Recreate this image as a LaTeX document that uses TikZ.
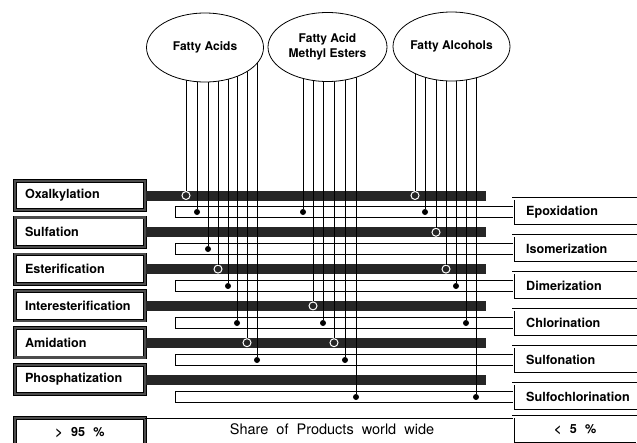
\documentclass[tikz,border=0pt]{standalone}
\usepackage{fontspec}
\setmainfont{TeX Gyre Heros}
\usetikzlibrary{positioning, shapes.geometric}

\pgfdeclarelayer{front}
\pgfsetlayers{main,front}

\begin{document}
\begin{tikzpicture}[
    x=1pt, y=-1pt,          % ピクセル座標をそのまま使う（y軸は下向き）
    line width=0.6pt,
    src/.style={ellipse, draw, fill=white, line width=0.8pt, inner sep=0pt,
        minimum width=117pt, minimum height=69pt, align=center,
        font=\fontsize{12}{14.5}\selectfont\bfseries},
    lbox/.style={draw, line width=0.7pt, double=black!70, double distance=2.2pt,
        fill=white, minimum width=130pt, minimum height=29.5pt, inner xsep=10pt,
        text width=110pt, align=left, font=\fontsize{12.6}{15}\selectfont\bfseries},
    rbox/.style={draw, double=white, double distance=2pt, fill=white, anchor=west,
        minimum height=27pt, inner xsep=13pt, text width=140pt, align=left,
        font=\fontsize{12.6}{15}\selectfont\bfseries},
    darkbar/.style={fill=black!85, inner sep=0pt, minimum width=340pt, minimum height=10pt},
    whitebar/.style={draw, fill=white},
    dot/.style={circle, fill=black, inner sep=0pt, minimum size=6pt},
    ring/.style={circle, draw=white, fill=black!85, line width=1pt, inner sep=0pt, minimum size=8pt}
]
    \clip (0,0) rectangle (637,442);

    % --- 1. 原料（楕円） ---
    \begin{pgfonlayer}{front}
        \node [src] (fa) at (205,47.5) {Fatty Acids};
        \node [src, minimum width=119pt] (fm) at (327.5,47) {Fatty Acid\\Methyl Esters};
        \node [src] (fo) at (451.5,46.5) {Fatty Alcohols};
    \end{pgfonlayer}

    % --- 2. 左側：主な反応（黒いバー） ---
    \node [lbox] (ox) at (80,195.5) {Oxalkylation};
    \node [lbox] (su) at (80,232.3) {Sulfation};
    \node [lbox] (es) at (80,269.1) {Esterification};
    \node [lbox] (ie) at (80,305.9) {Interesterification};
    \node [lbox] (am) at (80,342.7) {Amidation};
    \node [lbox] (ph) at (80,379.5) {Phosphatization};

    \node [darkbar, right=0pt of ox] (oxbar) {};
    \node [darkbar, right=0pt of su] (subar) {};
    \node [darkbar, right=0pt of es] (esbar) {};
    \node [darkbar, right=0pt of ie] (iebar) {};
    \node [darkbar, right=0pt of am] (ambar) {};
    \node [darkbar, right=0pt of ph] (phbar) {};

    % --- 3. 右側：その他の反応（白いバー） ---
    \node [rbox] (ep) at (513,212) {Epoxidation};
    \node [rbox] (is) at (513,249) {Isomerization};
    \node [rbox] (di) at (513,286) {Dimerization};
    \node [rbox] (ch) at (513,323) {Chlorination};
    \node [rbox] (sn) at (513,360) {Sulfonation};
    \node [rbox] (sc) at (513,397) {Sulfochlorination};

    \draw [whitebar] ([yshift=5.5pt]ep.west) -- ++(-337.5,0) -- ++(0,11) -- ([yshift=-5.5pt]ep.west);
    \draw [whitebar] ([yshift=5.5pt]is.west) -- ++(-337.5,0) -- ++(0,11) -- ([yshift=-5.5pt]is.west);
    \draw [whitebar] ([yshift=5.5pt]di.west) -- ++(-337.5,0) -- ++(0,11) -- ([yshift=-5.5pt]di.west);
    \draw [whitebar] ([yshift=5.5pt]ch.west) -- ++(-337.5,0) -- ++(0,11) -- ([yshift=-5.5pt]ch.west);
    \draw [whitebar] ([yshift=5.5pt]sn.west) -- ++(-337.5,0) -- ++(0,11) -- ([yshift=-5.5pt]sn.west);
    \draw [whitebar] ([yshift=5.5pt]sc.west) -- ++(-337.5,0) -- ++(0,11) -- ([yshift=-5.5pt]sc.west);

    % --- 4. 下段：シェア ---
    \node [lbox, align=center] (gt) at (80,433) {>~~95~~\%};
    \node [rbox, text width=98pt, align=center] (lt) at (513,430) {<~~5~~\%};
    \node [font=\fontsize{14.5}{17}\selectfont] (share) at (332,429) {Share~~of~~Products~~world~~wide};
    \draw (gt.north east) -- (gt.north east -| lt.west);

    % --- 5. 接続点（白丸＝黒バー、黒丸＝白バー） ---
    \node [ring] (faox) at (186,0 |- oxbar) {};
    \node [dot]  (faep) at (197,0 |- ep) {};
    \node [dot]  (fais) at (208,0 |- is) {};
    \node [ring] (faes) at (218,0 |- esbar) {};
    \node [dot]  (fadi) at (228,0 |- di) {};
    \node [dot]  (fach) at (237,0 |- ch) {};
    \node [ring] (faam) at (247,0 |- ambar) {};
    \node [dot]  (fasn) at (257,0 |- sn) {};

    \node [dot]  (fmep) at (303,0 |- ep) {};
    \node [ring] (fmie) at (313,0 |- iebar) {};
    \node [dot]  (fmch) at (323,0 |- ch) {};
    \node [ring] (fmam) at (334,0 |- ambar) {};
    \node [dot]  (fmsn) at (345,0 |- sn) {};
    \node [dot]  (fmsc) at (356,0 |- sc) {};

    \node [ring] (foox) at (415,0 |- oxbar) {};
    \node [dot]  (foep) at (425,0 |- ep) {};
    \node [ring] (fosu) at (436,0 |- subar) {};
    \node [ring] (foes) at (446,0 |- esbar) {};
    \node [dot]  (fodi) at (456,0 |- di) {};
    \node [dot]  (foch) at (466,0 |- ch) {};
    \node [dot]  (fosc) at (476,0 |- sc) {};

    % --- 6. 原料から反応への縦線 ---
    \foreach \t in {faox, faep, fais, faes, fadi, fach, faam, fasn}
        \draw (fa.center -| \t) -- (\t.north);
    \foreach \t in {fmep, fmie, fmch, fmam, fmsn, fmsc}
        \draw (fm.center -| \t) -- (\t.north);
    \foreach \t in {foox, foep, fosu, foes, fodi, foch, fosc}
        \draw (fo.center -| \t) -- (\t.north);

\end{tikzpicture}
\end{document}
